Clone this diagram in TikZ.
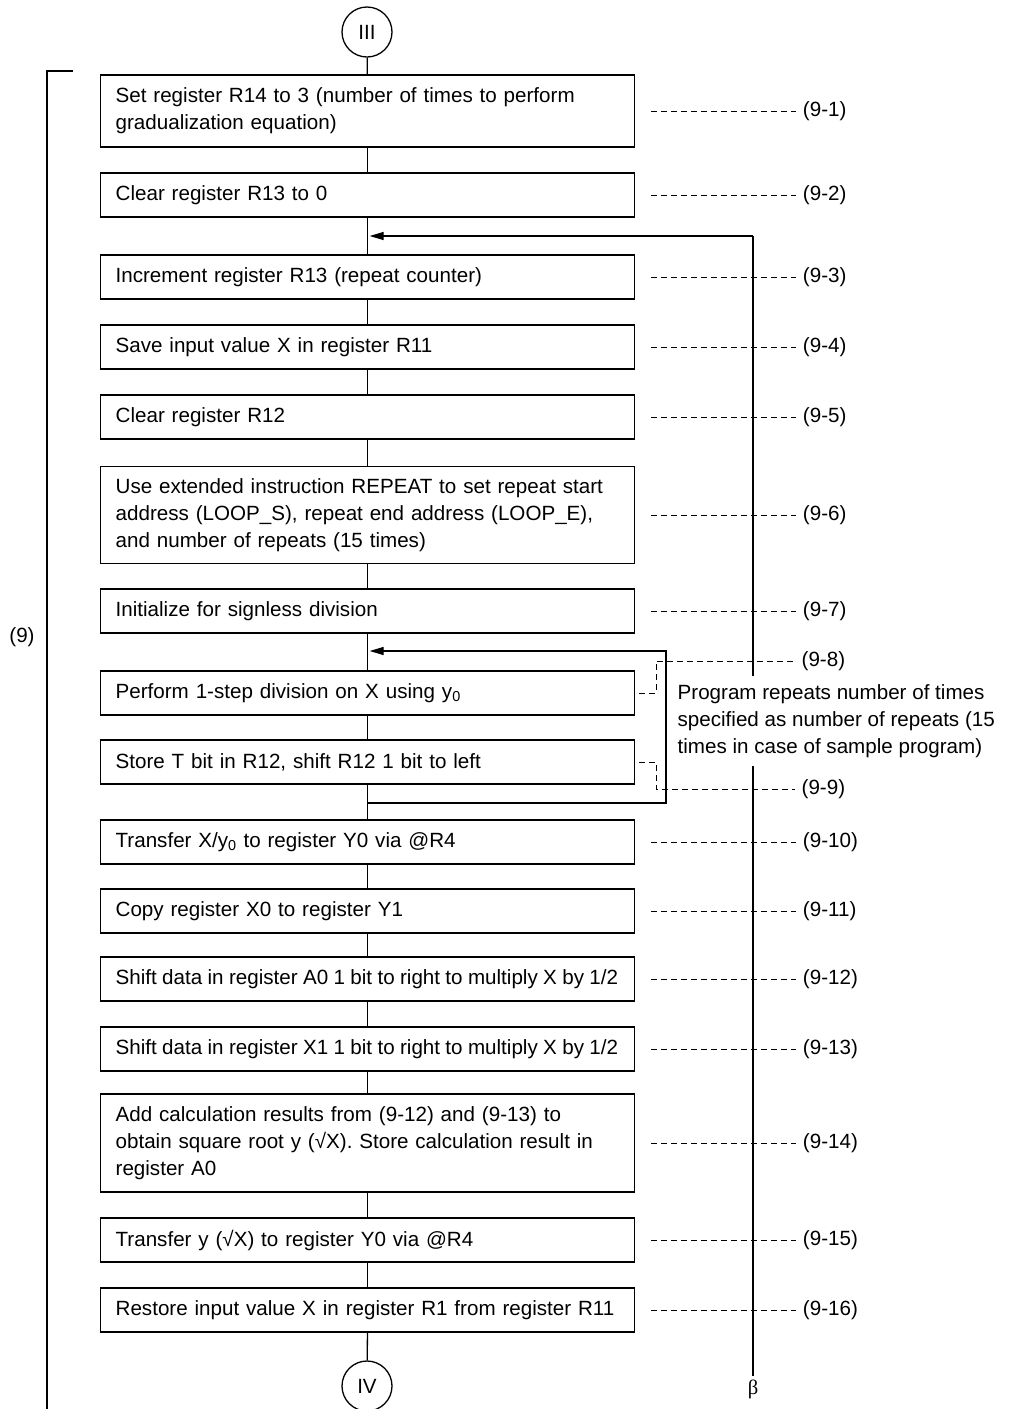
\documentclass[tikz,border=0pt]{standalone}
\usepackage{fontspec}
\setmainfont{Liberation Sans}
\newfontfamily\greekfont{Liberation Serif}
\usetikzlibrary{arrows.meta, positioning}
\newcommand{\snugline}[1]{{\spaceskip=0.26em\relax\mbox{#1}}}

\begin{document}
\begin{tikzpicture}[x=1pt, y=-1pt, line width=1.3pt,
    txt/.style={font=\fontsize{20.6}{27}\selectfont},
    stepbox/.style={draw, txt, anchor=west, text width=504pt, inner xsep=15pt, inner ysep=0pt, align=left, minimum height=44pt},
    conn/.style={draw, circle, txt, minimum size=50pt, inner sep=0pt},
    tag/.style={txt, anchor=west, inner xsep=6pt},
    leader/.style={line width=1pt, dash pattern=on 6pt off 4pt},
    back/.style={-{Triangle[length=14pt,width=8pt]}}]
    \useasboundingbox (0,0) rectangle (1018,1409);

    % connectors in and out
    \node[conn] (iii) at (367,32) {III};
    \node[conn] (iv) at (367,1386) {IV};

    % steps of (9)
    \node[stepbox, minimum height=72pt] (b1) at (100,111) {Set register R14 to 3 (number of times to perform\\gradualization equation)};
    \node[stepbox] (b2) at (100,195) {Clear register R13 to 0};
    \node[stepbox] (b3) at (100,277) {Increment register R13 (repeat counter)};
    \node[stepbox] (b4) at (100,347) {Save input value X in register R11};
    \node[stepbox] (b5) at (100,417) {Clear register R12};
    \node[stepbox, minimum height=97pt] (b6) at (100,515) {Use extended instruction REPEAT to set repeat start\\address (LOOP\_S), repeat end address (LOOP\_E),\\and number of repeats (15 times)};
    \node[stepbox] (b7) at (100,611) {Initialize for signless division};
    \node[stepbox] (b8) at (100,693) {Perform 1-step division on X using y\textsubscript{0}};
    \node[stepbox] (b9) at (100,762) {Store T bit in R12, shift R12 1 bit to left};
    \node[stepbox] (b10) at (100,842) {Transfer X/y\textsubscript{0} to register Y0 via @R4};
    \node[stepbox] (b11) at (100,911) {Copy register X0 to register Y1};
    \node[stepbox] (b12) at (100,979) {\snugline{Shift data in register A0 1 bit to right to multiply X by 1/2}};
    \node[stepbox] (b13) at (100,1049) {\snugline{Shift data in register X1 1 bit to right to multiply X by 1/2}};
    \node[stepbox, minimum height=98pt] (b14) at (100,1143) {Add calculation results from (9-12) and (9-13) to\\obtain square root y (√X). Store calculation result in\\register A0};
    \node[stepbox] (b15) at (100,1240) {Transfer y (√X) to register Y0 via @R4};
    \node[stepbox] (b16) at (100,1310) {Restore input value X in register R1 from register R11};

    % main flow line
    \draw (iii) -- (b1);
    \foreach \a/\b in {b1/b2, b2/b3, b3/b4, b4/b5, b5/b6, b6/b7, b7/b8, b8/b9, b9/b10,
                       b10/b11, b11/b12, b12/b13, b13/b14, b14/b15, b15/b16} {
      \draw (\a) -- (\b);
    }
    \draw (b16) -- (iv);

    % step labels
    \foreach \b/\n in {b1/1, b2/2, b3/3, b4/4, b5/5, b6/6, b7/7, b10/10,
                       b11/11, b12/12, b13/13, b14/14, b15/15, b16/16} {
      \node[tag, right=161pt of \b.east] (l\n) {(9-\n)};
      \draw[leader] ([xshift=16pt]\b.east) -- (l\n.west);
    }
    \node[tag] (l8) at (795,661) {(9-8)};
    \node[tag] (l9) at (795,789) {(9-9)};
    \coordinate (d8) at (656,661);
    \coordinate (d9) at (656,789);
    \draw[leader] ([xshift=4pt]b8.east) -| (d8) -- (l8.west);
    \draw[leader] ([xshift=4pt]b9.east) -| (d9) -- (l9.west);

    % inner repeat loop
    \coordinate (lpr) at (666,651);
    \coordinate (lpb) at (666,803);
    \draw[back, shorten >=2pt] (b9 |- lpb) -- (lpb) -- (lpr) -- (b7 |- lpr);
    \node[txt, anchor=west, align=left, inner xsep=6pt, inner ysep=8pt] (rep) at (671,721)
      {Program repeats number of times\\specified as number of repeats (15\\times in case of sample program)};

    % outer loop (beta)
    \coordinate (btop) at (753,236);
    \coordinate (bbot) at (753,1376);
    \draw[back, shorten >=2pt] (btop) -- (btop -| b2);
    \draw (btop) -- (btop |- rep.north);
    \draw (btop |- rep.south) -- (bbot);
    \node[txt, below=0pt of bbot] (beta) {\greekfont β};

    % bracket for (9)
    \node[txt] (nine) at (22,637) {(9)};
    \draw (73,71) -- (47,71) -- (47,1409);
  \end{tikzpicture}
\end{document}
